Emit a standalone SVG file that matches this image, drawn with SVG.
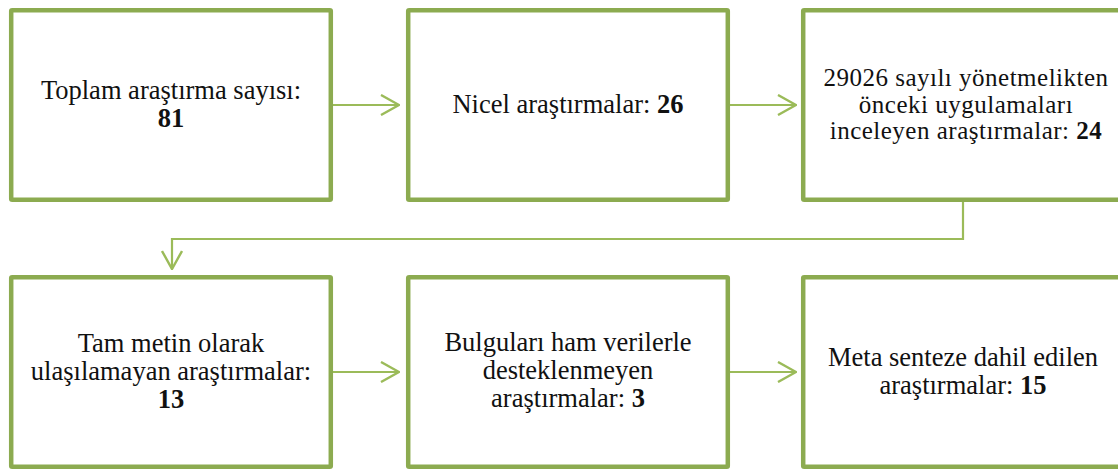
<svg xmlns="http://www.w3.org/2000/svg" width="1118" height="471" viewBox="0 0 1118 471">
<defs>
<style>
.box{fill:#ffffff;stroke:#8cab50;stroke-width:4.5;}
.t{font-size:26.5px;fill:#111111;text-anchor:middle;}
.s{font-size:25px;letter-spacing:0.5px;}
.b{font-weight:bold;}
.c{fill:none;stroke:#9bbb59;stroke-width:2.2;}
</style>
<marker id="ah" viewBox="0 0 20 22" refX="19" refY="11" markerWidth="20" markerHeight="22" markerUnits="userSpaceOnUse" orient="auto">
<path d="M1,1 L19,11 L1,21" fill="none" stroke="#9bbb59" stroke-width="2.4"/>
</marker>
</defs>
<rect width="1118" height="471" fill="#ffffff"/>
<g id="connectors">
<path class="c" d="M333,105 L399,105" marker-end="url(#ah)"/>
<path class="c" d="M730,105 L796,105" marker-end="url(#ah)"/>
<path class="c" d="M963,202 L963,239 L172,239 L172,269" marker-end="url(#ah)"/>
<path class="c" d="M333,372 L399,372" marker-end="url(#ah)"/>
<path class="c" d="M730,372 L796,372" marker-end="url(#ah)"/>
</g>
<g font-family="'Liberation Serif', 'Times New Roman', Tinos, 'DejaVu Serif', serif">
<g id="n1">
<rect class="box" x="11.2" y="10.2" width="319.6" height="189.6" rx="1"/>
<text class="t" x="171" y="99">Toplam araştırma sayısı:</text>
<text class="t b" x="171" y="127">81</text>
</g>
<g id="n2">
<rect class="box" x="408.2" y="10.2" width="319.6" height="189.6" rx="1"/>
<text class="t" x="568" y="113">Nicel araştırmalar: <tspan class="b">26</tspan></text>
</g>
<g id="n3">
<rect class="box" x="803.2" y="10.2" width="319.6" height="189.6" rx="1"/>
<text class="t s" x="966" y="86">29026 sayılı yönetmelikten</text>
<text class="t s" x="966" y="112.5">önceki uygulamaları</text>
<text class="t s" x="966" y="139">inceleyen araştırmalar: <tspan class="b">24</tspan></text>
</g>
<g id="n4">
<rect class="box" x="11.2" y="277.2" width="319.6" height="189.6" rx="1"/>
<text class="t" x="171" y="352">Tam metin olarak</text>
<text class="t" x="171" y="380">ulaşılamayan araştırmalar:</text>
<text class="t b" x="171" y="408">13</text>
</g>
<g id="n5">
<rect class="box" x="408.2" y="277.2" width="319.6" height="189.6" rx="1"/>
<text class="t" x="568" y="351">Bulguları ham verilerle</text>
<text class="t" x="568" y="379">desteklenmeyen</text>
<text class="t" x="568" y="407">araştırmalar: <tspan class="b">3</tspan></text>
</g>
<g id="n6">
<rect class="box" x="803.2" y="277.2" width="319.6" height="189.6" rx="1"/>
<text class="t" x="963" y="366">Meta senteze dahil edilen</text>
<text class="t" x="963" y="394">araştırmalar: <tspan class="b">15</tspan></text>
</g>
</g>
</svg>
